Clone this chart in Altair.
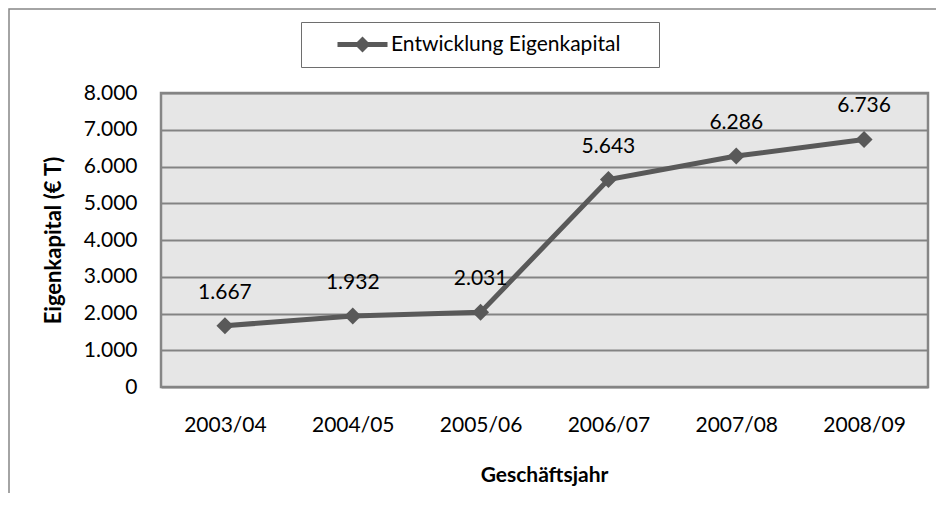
import altair as alt
import pandas as pd

years = ["2003/04", "2004/05", "2005/06", "2006/07", "2007/08", "2008/09"]
equity = [1667, 1932, 2031, 5643, 6286, 6736]
series_name = "Entwicklung Eigenkapital"
y_ticks = [0, 1000, 2000, 3000, 4000, 5000, 6000, 7000, 8000]

df = pd.DataFrame({"Jahr": years, "Wert": equity, "Serie": [series_name] * len(years)})

FONT = "Lato"
FS = 21
LINE = "#595959"

x_enc = alt.X("Jahr:N", sort=years, scale=alt.Scale(type="point", padding=0.5),
              axis=alt.Axis(title="Geschäftsjahr", labelAngle=0, ticks=False, domain=False,
                            labelPadding=27, labelFontSize=FS, labelFont=FONT, labelColor="black",
                            titleFontSize=21, titleFont=FONT, titleFontWeight="bold", titleColor="black",
                            titleX=383, titleY=88, titleBaseline="middle", titleAlign="center"))
y_enc = alt.Y("Wert:Q", scale=alt.Scale(domain=[0, 8000], nice=False),
              axis=alt.Axis(title="Eigenkapital (€ T)", values=y_ticks, ticks=False, domain=False,
                            grid=True, gridColor="#838383", gridWidth=2,
                            labelPadding=24, labelFontSize=FS, labelFont=FONT, labelColor="black",
                            labelExpr="replace(datum.label, ',', '.')",
                            titleFontSize=22, titleFont=FONT, titleFontWeight="bold", titleColor="black",
                            titleX=-108, titleY=147, titleAngle=270, titleBaseline="middle",
                            titleAlign="center"))

base = alt.Chart(df).encode(x=x_enc, y=y_enc)

line = base.mark_line(color=LINE, strokeWidth=5)

legend_symbol = "M-2.5,-0.25H2.5V0.25H-2.5Z M0,-0.8L0.8,0L0,0.8L-0.8,0Z"

points = base.mark_point(shape="diamond", filled=True, size=289, opacity=1).encode(
    color=alt.Color("Serie:N", scale=alt.Scale(domain=[series_name], range=[LINE]),
                    legend=alt.Legend(title="\u00a0", titleOrient="right", titlePadding=27,
                                      titleFontSize=8,
                                      orient="none", legendX=140, legendY=-71,
                                      strokeColor="#6e6e6e", padding=12, fillColor="white",
                                      symbolType=legend_symbol, symbolSize=400,
                                      symbolOffset=39, labelOffset=18, labelLimit=500,
                                      symbolStrokeWidth=0, symbolFillColor=LINE,
                                      labelFontSize=FS, labelFont=FONT, labelColor="black"))
)

labels = base.mark_text(dy=-33, fontSize=FS, font=FONT, color="black").transform_calculate(
    lbl="replace(format(datum.Wert, ','), ',', '.')"
).encode(text="lbl:N")

frame = alt.Chart(pd.DataFrame({"a": [0]})).mark_rect(fill=None, stroke="#868686", strokeWidth=1.5).encode(
    x=alt.value(-152), x2=alt.value(900), y=alt.value(-84), y2=alt.value(600)
)

chart = alt.layer(frame, line, points, labels).properties(
    width=767, height=294,
    padding={"left": 153, "top": 85, "right": 8, "bottom": 106},
    autosize=alt.AutoSizeParams(type="none"),
    background="white",
).configure_view(
    fill="#e6e6e6", stroke="#868686", strokeWidth=2.5
)

chart.save("out.html", embed_options={"renderer": "svg", "actions": False})
